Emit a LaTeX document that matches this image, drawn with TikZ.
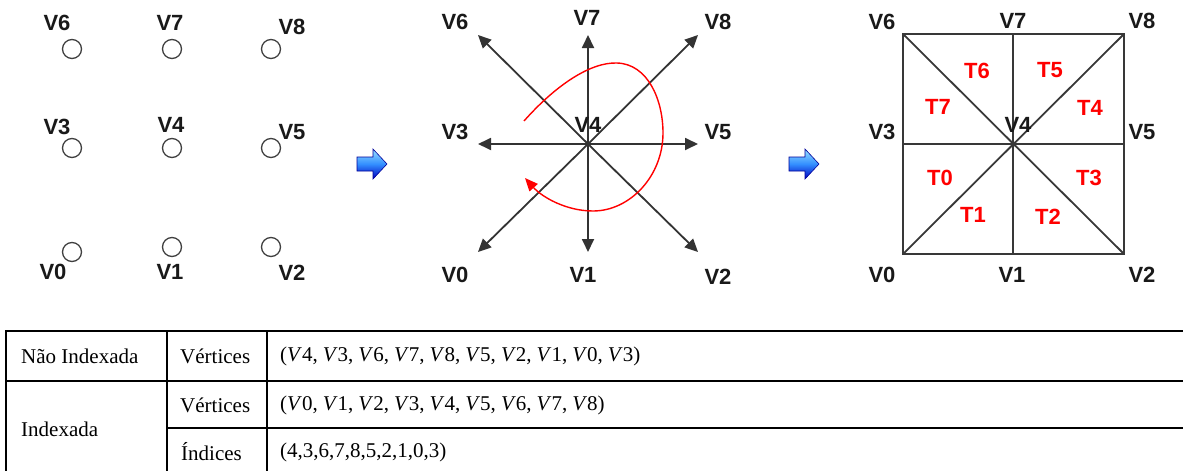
\documentclass[tikz,border=0pt]{standalone}
\usepackage{fontspec}
\setmainfont{Liberation Serif}
\newfontfamily\labfont{Liberation Sans}
\usetikzlibrary{arrows.meta}
\newcommand\Vx[1]{\textit{V}#1}
\newcommand\vsep{\hspace{0.24em}}
\begin{document}
\begin{tikzpicture}[x=1pt,y=-1pt,
  vlab/.style={font=\labfont\bfseries\fontsize{22}{24}\selectfont, inner sep=0pt, text=black!90},
  tlab/.style={vlab, text=red},
  pt/.style={circle, draw=black!75, line width=1.3pt, minimum size=19pt, inner sep=0pt},
  ray/.style={draw=black!80, line width=1.8pt, -{Triangle[length=13pt,width=12pt]}},
  spiral/.style={draw=red, line width=1.4pt, -{Triangle[length=13pt,width=11pt]}},
  edge/.style={draw=black!78, line width=1.8pt},
  tab/.style={draw=black, line width=2pt},
  ttext/.style={font=\fontsize{21}{25}\selectfont, inner sep=0pt, anchor=west},
  barrow/.pic={\draw[draw=blue!60!black, line width=0.6pt, top color=blue!30!cyan!40, bottom color=blue!75!black, middle color=blue!55!cyan!80]
     (0,-7) -- (16,-7) -- (16,-15) -- (30,0) -- (16,15) -- (16,7) -- (0,7) -- cycle;}
]
\useasboundingbox (0,0) rectangle (1183,471);

% ---------- panel 1 ----------
\node[pt] (p6) at (72,49) {};
\node[pt] (p7) at (172,49) {};
\node[pt] (p8) at (271,49) {};
\node[pt] (p3) at (72,148) {};
\node[pt] (p4) at (172,148) {};
\node[pt] (p5) at (271,148) {};
\node[pt] (p0) at (72,252) {};
\node[pt] (p1) at (172,247) {};
\node[pt] (p2) at (271,247) {};
\node[vlab] (l6) at (57,23) {V6};
\node[vlab] (l7) at (170,23) {V7};
\node[vlab] (l8) at (292,27) {V8};
\node[vlab] (l3) at (57,127) {V3};
\node[vlab] (l4) at (171,125) {V4};
\node[vlab] (l5) at (292,132) {V5};
\node[vlab] (l0) at (53,272) {V0};
\node[vlab] (l1) at (170,272) {V1};
\node[vlab] (l2) at (292,273) {V2};

\pic at (357,164) {barrow};

% ---------- panel 2 ----------
\coordinate (O) at (588,144);
\coordinate (a6) at (478,35);
\coordinate (a7) at (588,35);
\coordinate (a8) at (698,35);
\coordinate (a3) at (478,144);
\coordinate (a5) at (698,144);
\coordinate (a0) at (478,252);
\coordinate (a1) at (588,252);
\coordinate (a2) at (698,252);
\foreach \k in {6,7,8,3,5,0,1,2} {\draw[ray] (O) -- (a\k);}
\node[vlab] (m6) at (455,22) {V6};
\node[vlab] (m7) at (587,18) {V7};
\node[vlab] (m8) at (718,22) {V8};
\node[vlab] (m3) at (455,132) {V3};
\node[vlab] (m4) at (588,125) {V4};
\node[vlab] (m5) at (718,132) {V5};
\node[vlab] (m0) at (455,275) {V0};
\node[vlab] (m1) at (583,275) {V1};
\node[vlab] (m2) at (718,277) {V2};
\coordinate (s0) at (524,121);
\coordinate (s1) at (617,63);
\coordinate (s2) at (663,133);
\coordinate (s3) at (593,211);
\coordinate (s4) at (525,178);
\draw[spiral] (s0) .. controls (555,86) and (590,62) .. (s1)
  .. controls (648,64) and (663,100) .. (s2)
  .. controls (663,176) and (630,211) .. (s3)
  .. controls (566,211) and (542,197) .. (s4);

\pic at (789,164) {barrow};

% ---------- panel 3 ----------
\coordinate (q0) at (903,254);
\coordinate (q1) at (1013,254);
\coordinate (q2) at (1124,254);
\coordinate (q3) at (903,144);
\coordinate (q4) at (1013,144);
\coordinate (q5) at (1124,144);
\coordinate (q6) at (903,34);
\coordinate (q7) at (1013,34);
\coordinate (q8) at (1124,34);
\draw[edge] (q0) -- (q2) -- (q8) -- (q6) -- cycle;
\draw[edge] (q3) -- (q5);
\draw[edge] (q1) -- (q7);
\draw[edge] (q0) -- (q8);
\draw[edge] (q6) -- (q2);
\node[vlab] (n6) at (882,22) {V6};
\node[vlab] (n7) at (1013,21) {V7};
\node[vlab] (n8) at (1142,21) {V8};
\node[vlab] (n3) at (882,132) {V3};
\node[vlab] (n4) at (1018,125) {V4};
\node[vlab] (n5) at (1142,132) {V5};
\node[vlab] (n0) at (882,275) {V0};
\node[vlab] (n1) at (1012,275) {V1};
\node[vlab] (n2) at (1142,275) {V2};
\node[tlab] (t6) at (977,71) {T6};
\node[tlab] (t5) at (1050,70) {T5};
\node[tlab] (t7) at (938,107) {T7};
\node[tlab] (t4) at (1090,108) {T4};
\node[tlab] (t0) at (940,178) {T0};
\node[tlab] (t3) at (1089,178) {T3};
\node[tlab] (t1) at (973,215) {T1};
\node[tlab] (t2) at (1048,217) {T2};

% ---------- table ----------
\draw[tab] (6,331) -- (1183,331);
\draw[tab] (6,381) -- (1183,381);
\draw[tab] (167,428) -- (1183,428);
\draw[tab] (6,330) -- (6,472);
\draw[tab] (167,330) -- (167,472);
\draw[tab] (267,330) -- (267,472);
\node[ttext] (c11) at (21,356) {Não Indexada};
\node[ttext] (c12) at (180,356) {Vértices};
\node[ttext] (c13) at (280,356) {(\Vx4,\vsep\Vx3,\vsep\Vx6,\vsep\Vx7,\vsep\Vx8,\vsep\Vx5,\vsep\Vx2,\vsep\Vx1,\vsep\Vx0,\vsep\Vx3)};
\node[ttext] (c21) at (21,429) {Indexada};
\node[ttext] (c22) at (180,405) {Vértices};
\node[ttext] (c23) at (280,405) {(\Vx0,\vsep\Vx1,\vsep\Vx2,\vsep\Vx3,\vsep\Vx4,\vsep\Vx5,\vsep\Vx6,\vsep\Vx7,\vsep\Vx8)};
\node[ttext] (c32) at (181,452) {Índices};
\node[ttext] (c33) at (280,452) {(4,3,6,7,8,5,2,1,0,3)};
\end{tikzpicture}
\end{document}
